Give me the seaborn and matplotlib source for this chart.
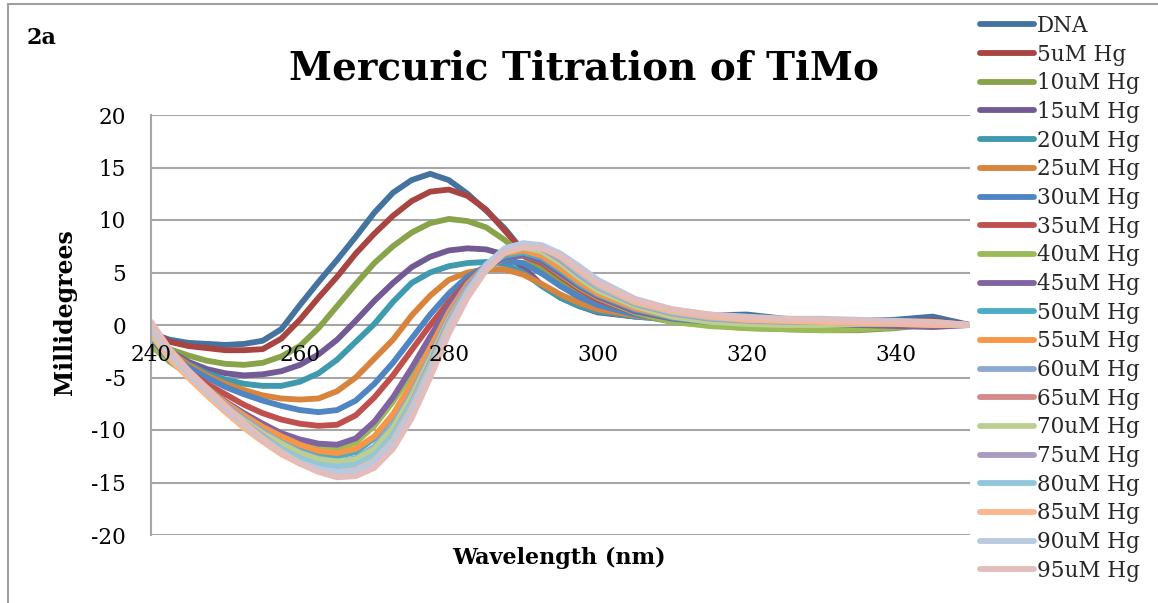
import numpy as np
import pandas as pd
import matplotlib
matplotlib.use("Agg")
import matplotlib.pyplot as plt
from matplotlib.patches import Rectangle
from matplotlib.lines import Line2D
import seaborn as sns

# ---------------- data ----------------
wavelength = [240, 242.5, 245, 247.5, 250, 252.5, 255, 257.5, 260, 262.5, 265, 267.5,
              270, 272.5, 275, 277.5, 280, 282.5, 285, 287.5, 290, 292.5, 295, 297.5,
              300, 305, 310, 315, 320, 325, 330, 335, 340, 345, 350]

series_names = ["DNA", "5uM Hg", "10uM Hg", "15uM Hg", "20uM Hg", "25uM Hg", "30uM Hg",
                "35uM Hg", "40uM Hg", "45uM Hg", "50uM Hg", "55uM Hg", "60uM Hg",
                "65uM Hg", "70uM Hg", "75uM Hg", "80uM Hg", "85uM Hg", "90uM Hg", "95uM Hg"]

dna = [-0.8, -1.4, -1.7, -1.8, -1.9, -1.8, -1.5, -0.4, 1.9, 4.1, 6.2, 8.4, 10.7, 12.6, 13.8, 14.4, 13.8, 12.5, 10.9, 9.2, 7.0, 5.2, 3.8, 2.6, 1.8, 1.1, 0.8, 0.9, 1.0, 0.6, 0.4, 0.4, 0.5, 0.8, 0.0]
hg5 = [-0.6, -1.6, -2.0, -2.2, -2.4, -2.4, -2.3, -1.3, 0.5, 2.6, 4.6, 6.8, 8.7, 10.4, 11.8, 12.7, 12.9, 12.3, 11.0, 9.0, 7.0, 5.4, 4.1, 2.9, 2.0, 1.2, 0.7, 0.5, 0.4, 0.3, 0.3, 0.3, 0.3, 0.4, 0.0]
hg10 = [-1.5, -2.3, -2.9, -3.4, -3.7, -3.8, -3.6, -3.0, -2.0, -0.3, 1.8, 3.9, 5.9, 7.5, 8.8, 9.7, 10.1, 9.9, 9.3, 8.1, 6.6, 5.3, 4.2, 3.0, 2.1, 1.0, 0.3, 0.0, -0.3, -0.4, -0.5, -0.5, -0.3, 0.1, 0.0]
hg15 = [-1.0, -2.5, -3.5, -4.2, -4.6, -4.8, -4.7, -4.4, -3.8, -2.8, -1.4, 0.4, 2.3, 4.0, 5.5, 6.5, 7.1, 7.3, 7.2, 6.7, 5.5, 3.8, 2.6, 1.8, 1.2, 0.8, 0.6, 0.4, 0.3, 0.3, 0.3, 0.2, 0.1, 0.0, 0.0]
hg20 = [-1.0, -2.6, -3.7, -4.6, -5.2, -5.6, -5.8, -5.8, -5.4, -4.6, -3.3, -1.6, 0.1, 2.2, 4.0, 5.0, 5.6, 5.9, 6.0, 5.8, 5.0, 3.7, 2.6, 1.8, 1.3, 0.8, 0.5, 0.4, 0.3, 0.3, 0.3, 0.2, 0.2, 0.1, 0.0]
hg25 = [-0.8, -2.5, -3.8, -4.8, -5.6, -6.2, -6.7, -7.0, -7.1, -7.0, -6.3, -5.0, -3.2, -1.4, 0.9, 2.8, 4.3, 5.0, 5.3, 5.3, 4.8, 3.9, 2.9, 2.1, 1.5, 0.9, 0.5, 0.4, 0.4, 0.4, 0.4, 0.4, 0.3, 0.2, 0.0]
hg30 = [-1.0, -2.8, -4.0, -5.0, -5.9, -6.6, -7.2, -7.7, -8.1, -8.3, -8.1, -7.2, -5.6, -3.6, -1.3, 1.0, 3.0, 4.6, 5.6, 6.1, 5.9, 4.9, 3.7, 2.7, 1.9, 1.0, 0.5, 0.3, 0.3, 0.3, 0.2, 0.2, 0.2, 0.1, 0.0]
hg35 = [-0.7, -3.0, -4.4, -5.6, -6.6, -7.6, -8.4, -9.0, -9.4, -9.6, -9.5, -8.6, -6.9, -4.8, -2.4, 0.0, 2.2, 4.1, 5.6, 6.5, 6.6, 5.9, 4.6, 3.4, 2.4, 1.2, 0.6, 0.3, 0.2, 0.2, 0.2, 0.2, 0.2, 0.2, 0.0]
hg40 = [-2.0, -3.5, -4.7, -6.0, -7.3, -8.5, -9.6, -10.5, -11.2, -11.7, -11.8, -11.2, -9.6, -7.3, -4.6, -1.6, 1.3, 3.6, 5.3, 6.4, 6.7, 6.1, 4.8, 3.6, 2.6, 1.2, 0.3, -0.1, -0.3, -0.4, -0.5, -0.4, -0.2, 0.1, 0.0]
hg45 = [-1.2, -3.3, -4.8, -6.1, -7.3, -8.4, -9.4, -10.3, -10.9, -11.3, -11.4, -10.8, -9.2, -6.9, -4.1, -1.1, 1.8, 4.0, 5.5, 6.4, 6.7, 6.1, 4.9, 3.7, 2.7, 1.3, 0.6, 0.3, 0.2, 0.2, 0.1, 0.0, -0.1, -0.2, 0.0]
hg50 = [-1.0, -3.2, -4.8, -6.2, -7.5, -8.7, -9.8, -10.8, -11.6, -12.2, -12.5, -12.1, -10.8, -8.6, -5.6, -2.2, 1.2, 3.8, 5.6, 6.6, 6.9, 6.4, 5.2, 3.9, 2.9, 1.5, 0.7, 0.3, 0.2, 0.2, 0.2, 0.2, 0.2, 0.2, 0.0]
hg55 = [-0.9, -3.1, -4.7, -6.1, -7.4, -8.6, -9.7, -10.6, -11.4, -12.0, -12.2, -11.8, -10.6, -8.5, -5.6, -2.2, 1.2, 3.9, 5.7, 6.8, 7.1, 6.6, 5.4, 4.1, 3.0, 1.6, 0.8, 0.5, 0.4, 0.4, 0.4, 0.4, 0.3, 0.2, 0.0]
hg60 = [-0.8, -3.0, -4.7, -6.2, -7.6, -8.9, -10.1, -11.2, -12.1, -12.7, -13.0, -12.7, -11.6, -9.5, -6.5, -2.9, 0.8, 3.7, 5.8, 7.0, 7.4, 7.0, 5.9, 4.5, 3.3, 1.8, 0.9, 0.5, 0.4, 0.4, 0.3, 0.3, 0.3, 0.2, 0.0]
hg65 = [-0.6, -2.9, -4.6, -6.2, -7.7, -9.1, -10.3, -11.4, -12.3, -13.0, -13.3, -13.0, -11.9, -9.8, -6.8, -3.1, 0.6, 3.5, 5.7, 7.0, 7.5, 7.1, 6.0, 4.6, 3.4, 1.9, 1.0, 0.6, 0.5, 0.4, 0.4, 0.3, 0.3, 0.2, 0.0]
hg70 = [-0.9, -3.2, -4.9, -6.4, -7.8, -9.1, -10.3, -11.3, -12.2, -12.8, -13.0, -12.8, -11.8, -9.8, -6.8, -3.2, 0.5, 3.4, 5.6, 6.9, 7.4, 7.0, 5.9, 4.5, 3.3, 1.8, 0.8, 0.3, 0.1, 0.0, 0.0, 0.1, 0.1, 0.1, 0.0]
hg75 = [-0.5, -2.9, -4.7, -6.3, -7.9, -9.3, -10.6, -11.8, -12.7, -13.4, -13.7, -13.5, -12.5, -10.5, -7.4, -3.6, 0.3, 3.3, 5.6, 7.0, 7.6, 7.3, 6.2, 4.8, 3.6, 2.0, 1.1, 0.6, 0.4, 0.3, 0.3, 0.2, 0.1, 0.0, 0.0]
hg80 = [-0.3, -2.8, -4.7, -6.4, -8.0, -9.4, -10.7, -11.8, -12.7, -13.3, -13.5, -13.3, -12.4, -10.5, -7.5, -3.8, 0.1, 3.2, 5.6, 7.1, 7.7, 7.4, 6.4, 5.0, 3.7, 2.1, 1.2, 0.7, 0.5, 0.4, 0.4, 0.3, 0.3, 0.2, 0.0]
hg85 = [-0.5, -3.2, -5.0, -6.7, -8.3, -9.8, -11.1, -12.3, -13.2, -13.8, -14.0, -13.8, -12.9, -11.0, -8.0, -4.2, -0.1, 3.1, 5.5, 7.0, 7.6, 7.4, 6.5, 5.2, 3.9, 2.2, 1.3, 0.8, 0.5, 0.4, 0.3, 0.2, 0.1, 0.0, 0.0]
hg90 = [-0.2, -2.7, -4.6, -6.3, -8.0, -9.5, -10.9, -12.1, -13.1, -13.7, -14.0, -13.9, -13.0, -11.1, -8.2, -4.4, -0.3, 3.1, 5.7, 7.3, 7.8, 7.6, 6.8, 5.6, 4.3, 2.5, 1.5, 1.0, 0.8, 0.6, 0.6, 0.5, 0.4, 0.3, 0.0]
hg95 = [0.3, -2.3, -4.3, -6.0, -7.7, -9.3, -10.8, -12.1, -13.2, -14.0, -14.5, -14.4, -13.6, -11.8, -8.9, -5.0, -0.8, 2.6, 5.2, 6.9, 7.4, 7.3, 6.6, 5.3, 4.0, 2.4, 1.5, 1.0, 0.7, 0.6, 0.5, 0.4, 0.3, 0.3, 0.0]

series_values = [dna, hg5, hg10, hg15, hg20, hg25, hg30, hg35, hg40, hg45,
                 hg50, hg55, hg60, hg65, hg70, hg75, hg80, hg85, hg90, hg95]

colors = ["#44739F", "#A84441", "#89A34A", "#725A94", "#3F9AAF", "#D8843D",
          "#4F85C2", "#C0504D", "#9BBB59", "#8064A2", "#4BACC6", "#F79646",
          "#8EA9D1", "#D48A89", "#BCCF93", "#A99BC1", "#92C6D9", "#FAB78B",
          "#B9C9E0", "#E3BCBC"]

x_ticks = [240, 260, 280, 300, 320, 340]
y_ticks = [-20, -15, -10, -5, 0, 5, 10, 15, 20]

# ---------------- table ----------------
rows = []
for name, vals in zip(series_names, series_values):
    for xv, yv in zip(wavelength, vals):
        rows.append((name, xv, yv))
df = pd.DataFrame(rows, columns=["Series", "Wavelength", "Millidegrees"])

# ---------------- plot ----------------
sns.set_theme(style="white")
plt.rcParams["font.family"] = ["DejaVu Serif", "DejaVu Sans"]

W, H = 1158, 603
fig = plt.figure(figsize=(W / 100, H / 100), dpi=100)
fig.patch.set_facecolor("white")
ax = fig.add_axes([151 / W, 1 - 535 / H, (970 - 151) / W, (535 - 115) / H])

sns.lineplot(data=df, x="Wavelength", y="Millidegrees", hue="Series",
             hue_order=series_names, palette=colors, linewidth=4.2,
             estimator=None, sort=False, legend=False, ax=ax)
for ln in ax.lines:
    ln.set_solid_capstyle("round")
    ln.set_solid_joinstyle("round")

ax.set_xlim(240, 350)
ax.set_ylim(-20, 20)
ax.set_yticks(y_ticks)
ax.set_yticklabels([str(v) for v in y_ticks])
ax.set_xticks(x_ticks)
ax.grid(axis="y", color="#A6A6A6", linewidth=1.5)
ax.grid(axis="x", visible=False)
ax.set_axisbelow(True)

for s in ["top", "right", "bottom"]:
    ax.spines[s].set_visible(False)
ax.spines["left"].set_color("#A6A6A6")
ax.spines["left"].set_linewidth(1.5)

ax.tick_params(axis="y", length=0, pad=18, labelsize=15.5, labelcolor="black")
ax.tick_params(axis="x", length=0, labelbottom=False)
ax.set_xlabel("")
ax.set_ylabel("")

# x tick labels sit just below the zero line (y = 0 is the middle of the y range)
sec = ax.secondary_xaxis(0.5)
sec.set_alignment("bottom")
sec.set_xticks(x_ticks)
sec.set_xticklabels([str(v) for v in x_ticks])
sec.tick_params(axis="x", length=0, pad=14, labelsize=15.5, labelcolor="black",
                labelbottom=True, labeltop=False)
for s in sec.spines.values():
    s.set_visible(False)
sec.set_zorder(5)

# texts
fig.text(584 / W, 1 - 80 / H, "Mercuric Titration of TiMo", ha="center",
         va="baseline", fontsize=28, fontweight="bold", color="black")
fig.text(27 / W, 1 - 44 / H, "2a", ha="left", va="baseline", fontsize=16,
         fontweight="bold", color="black")
fig.text(65 / W, 1 - 312 / H, "Millidegrees", ha="center", va="center",
         rotation=90, fontsize=17, fontweight="bold", color="black")
fig.text(559 / W, 1 - 558 / H, "Wavelength (nm)", ha="center", va="center",
         fontsize=16, fontweight="bold", color="black")

# legend
handles = [Line2D([0], [0], color=c, linewidth=4.2, solid_capstyle="round")
           for c in colors]
fig.legend(handles, series_names, loc="upper left",
           bbox_to_anchor=(980 / W, 1 - 15 / H), frameon=False,
           fontsize=15.5, handlelength=2.5, handletextpad=0.15,
           labelspacing=0.31, borderpad=0, borderaxespad=0)

# chart border
fig.add_artist(Rectangle((8 / W, -0.1), 1.2, 1 - 4 / H + 0.1,
                         transform=fig.transFigure, fill=False,
                         edgecolor="#A0A0A0", linewidth=1.5))

fig.savefig("out.png", dpi=100)
